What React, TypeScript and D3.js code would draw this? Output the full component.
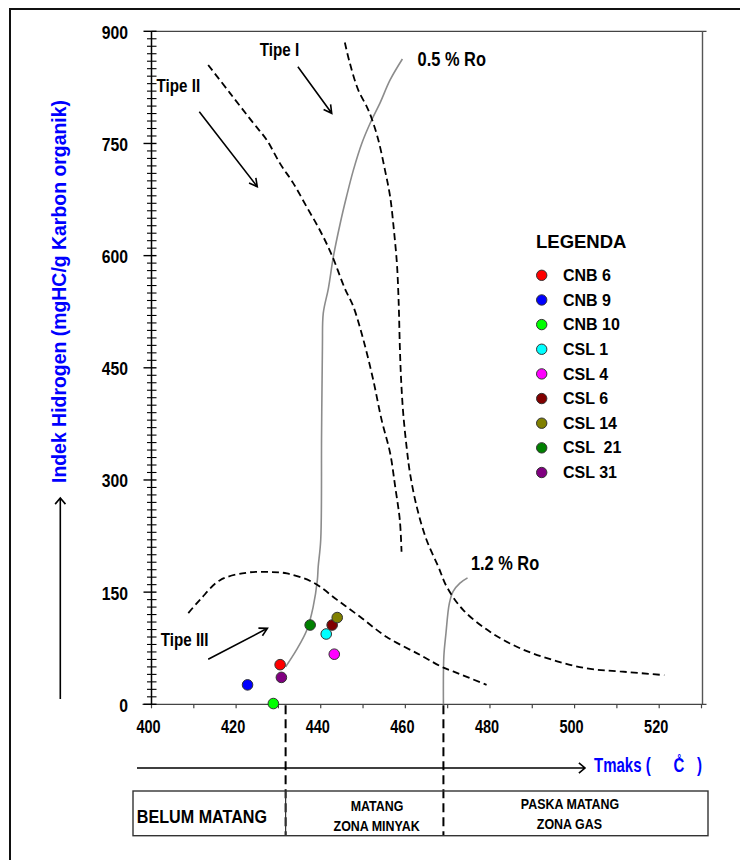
import React from 'react';
import * as d3 from 'd3';

const W = 740;
const H = 860;

// ---- Samples (Tmax °C, Hydrogen Index) ----
const sampleNames = ['CNB 6', 'CNB 9', 'CNB 10', 'CSL 1', 'CSL 4', 'CSL 6', 'CSL 14', 'CSL  21', 'CSL 31'];
const sampleColors = ['#ff0000', '#0000ff', '#00ff00', '#00ffff', '#ff00ff', '#800000', '#808000', '#008000', '#800080'];
const sampleTmax = [430.4, 422.7, 428.8, 441.3, 443.2, 442.7, 443.9, 437.5, 430.7];
const sampleHI = [53, 26, 1, 94, 67, 106, 116, 106, 36];

// ---- Kerogen type curves [Tmax, HI] ----
const typeICurve: [number, number][] = [
  [445.7, 885], [446.9, 857], [448.9, 821], [450.9, 799], [452.0, 784], [453.6, 755], [455.2, 714],
  [456.4, 679], [457.3, 634], [458.0, 590], [458.3, 556], [458.5, 523], [458.7, 478], [459.0, 434],
  [459.5, 389], [460.3, 344], [461.1, 309], [462.7, 264], [465.0, 220], [467.8, 184], [469.8, 157],
  [473.7, 126], [480.0, 97], [487.1, 75], [495.0, 59], [502.9, 48], [510.7, 44], [521.2, 39],
];
const typeIICurve: [number, number][] = [
  [413.4, 855], [418.6, 817], [424.1, 777], [427.2, 755], [430.4, 723], [433.5, 697], [436.7, 665],
  [439.8, 634], [442.6, 601], [445.7, 556], [447.7, 532], [450.1, 487], [452.4, 434], [454.4, 380],
  [456.4, 336], [457.6, 291], [458.7, 246], [459.1, 204],
];
const typeIIICurve: [number, number][] = [
  [408.7, 122], [411.5, 140], [416.2, 166], [422.5, 176], [427.2, 177], [432.0, 175], [438.2, 163],
  [443.8, 140], [449.3, 117], [455.6, 90], [463.5, 66], [469.0, 49], [471.3, 44], [479.2, 26],
];
// ---- Vitrinite reflectance iso-lines ----
const ro05Curve: [number, number][] = [
  [459.3, 863], [456.4, 835], [454.0, 804], [452.0, 781], [449.7, 750], [447.7, 714], [446.1, 679],
  [444.6, 643], [443.0, 599], [441.8, 556], [440.6, 523], [440.4, 478], [440.2, 362], [440.0, 220],
  [439.4, 184], [439.2, 166], [438.2, 130], [436.7, 99], [434.3, 73], [431.7, 50],
];
const ro12Curve: [number, number][] = [
  [469.0, 0], [469.1, 64], [469.6, 95], [470.4, 135], [471.3, 151], [472.9, 162], [474.7, 169],
];

const yTickValues = [0, 150, 300, 450, 600, 750, 900];
const xTickLabels = [400, 420, 440, 460, 480, 500, 520];
const zoneBounds = [431.7, 469];

// annotations in data units
const typeLabels = [
  { text: 'Tipe I', t: 425.6, hi: 867 },
  { text: 'Tipe II', t: 401.2, hi: 819 },
  { text: 'Tipe III', t: 402.2, hi: 78 },
];
const typeArrows = [
  { t1: 434.6, h1: 852.7, t2: 442.6, h2: 790.3 },
  { t1: 411.3, h1: 792.5, t2: 425.0, h2: 692.2 },
  { t1: 413.4, h1: 60.2, t2: 427.4, h2: 101.6 },
];
const roLabels = [
  { text: '0.5 % Ro', t: 462.9, hi: 853 },
  { text: '1.2 % Ro', t: 475.5, hi: 179 },
];

const FONT = "'Liberation Sans', Arial, sans-serif";

const x = d3.scaleLinear().domain([400, 530]).range([151.5, 701.5]);
const y = d3.scaleLinear().domain([0, 900]).range([704.3, 31.3]);

const line = d3
  .line<[number, number]>()
  .x((d) => x(d[0]))
  .y((d) => y(d[1]))
  .curve(d3.curveCatmullRom.alpha(0.5));

function arrowPath(x1: number, y1: number, x2: number, y2: number, size = 9, spread = 0.45) {
  const a = Math.atan2(y2 - y1, x2 - x1);
  const ax1 = x2 - size * Math.cos(a - spread);
  const ay1 = y2 - size * Math.sin(a - spread);
  const ax2 = x2 - size * Math.cos(a + spread);
  const ay2 = y2 - size * Math.sin(a + spread);
  return `M${x1},${y1}L${x2},${y2}M${ax1},${ay1}L${x2},${y2}L${ax2},${ay2}`;
}

function NText(props: {
  x: number; y: number; size: number; sx?: number; anchor?: string; fill?: string;
  weight?: string; children: React.ReactNode;
}) {
  const { x: tx, y: ty, size, sx = 1, anchor = 'start', fill = '#000', weight = 'bold', children } = props;
  return (
    <text
      transform={`translate(${tx},${ty}) scale(${sx},1)`}
      fontSize={size}
      fontFamily={FONT}
      fontWeight={weight}
      textAnchor={anchor}
      fill={fill}
      style={{ whiteSpace: 'pre' }}
    >
      {children}
    </text>
  );
}

export default function App() {
  const yMinor = d3.range(0, 901, 10).filter((v) => v % 150 !== 0);
  const xTicks = d3.range(400, 531, 10);
  const y0 = y(0);
  const x0 = x(400);
  const xEnd = x(530);
  const dash = '7,4';

  const legendX = 541.7;
  const legendY0 = 275.3;
  const legendStep = 24.65;

  const tableTop = 791;
  const tableBottom = 835.7;
  const tableLeft = 133;
  const tableRight = 708;

  return (
    <div style={{ position: 'absolute', left: 0, top: 0 }}>
      <svg width={W} height={H} viewBox={`0 0 ${W} ${H}`} style={{ display: 'block', background: '#fff' }}>
        {/* outer frame */}
        <rect x={10} y={9} width={760} height={880} fill="none" stroke="#111" strokeWidth={2} />

        {/* plot frame */}
        <line x1={x0} x2={xEnd + 5} y1={y(900)} y2={y(900)} stroke="#444" strokeWidth={1.2} />
        <line x1={xEnd + 1} x2={xEnd + 1} y1={y(900)} y2={y0} stroke="#555" strokeWidth={1.4} />

        {/* x axis */}
        <line x1={x0 - 9} x2={xEnd + 5} y1={y0} y2={y0} stroke="#444" strokeWidth={1.3} />
        {xTicks.map((v) => (
          <line key={`xt${v}`} x1={x(v)} x2={x(v)} y1={y0} y2={y0 + 4} stroke="#444" strokeWidth={1.2} />
        ))}
        {xTickLabels.map((v) => (
          <NText key={`xl${v}`} x={x(v) - 3} y={733} size={18.6} sx={0.78} anchor="middle">
            {v}
          </NText>
        ))}

        {/* y axis */}
        <line x1={x0} x2={x0} y1={y(900)} y2={y0} stroke="#000" strokeWidth={1.5} />
        {yMinor.map((v) => (
          <line key={`ym${v}`} x1={x0 - 4.5} x2={x0 + 5} y1={y(v)} y2={y(v)} stroke="#000" strokeWidth={1.1} />
        ))}
        {yTickValues.map((v) => (
          <line key={`yM${v}`} x1={x0 - 8} x2={x0 + 5} y1={y(v)} y2={y(v)} stroke="#000" strokeWidth={1.4} />
        ))}
        {yTickValues.map((v) => (
          <NText key={`yl${v}`} x={128} y={y(v) + 7.5} size={17.5} sx={0.9} anchor="end">
            {v}
          </NText>
        ))}

        {/* y axis title + arrow */}
        <text
          transform="translate(65.5,291.5) rotate(-90)"
          fontSize={20}
          fontFamily={FONT}
          fontWeight="bold"
          textAnchor="middle"
          fill="#0000ff"
          textLength={383}
          lengthAdjust="spacingAndGlyphs"
        >
          Indek Hidrogen (mgHC/g Karbon organik)
        </text>
        <path d={arrowPath(60.3, 699, 60.3, 498, 8, 0.7)} fill="none" stroke="#000" strokeWidth={1.6} />

        {/* x axis title + arrow */}
        <path d={arrowPath(137, 768, 585, 768, 8, 0.7)} fill="none" stroke="#000" strokeWidth={1.6} />
        <NText x={594} y={772.3} size={20} sx={0.75} fill="#0000ff">Tmaks (</NText>
        <NText x={673.5} y={772.3} size={20} sx={0.75} fill="#0000ff">{'C\u030A'}</NText>
        <NText x={697} y={772.3} size={20} sx={0.75} fill="#0000ff">)</NText>

        {/* maturity zone boundaries */}
        {zoneBounds.map((t) => (
          <line key={`zb${t}`} x1={x(t)} x2={x(t)} y1={y0 + 1} y2={tableBottom} stroke="#000" strokeWidth={2} strokeDasharray="9,5" />
        ))}

        {/* maturity table */}
        <rect
          x={tableLeft}
          y={tableTop}
          width={tableRight - tableLeft}
          height={tableBottom - tableTop}
          fill="none"
          stroke="#333"
          strokeWidth={1.4}
        />
        <line x1={x(zoneBounds[0])} x2={x(zoneBounds[0])} y1={tableTop} y2={tableBottom} stroke="#333" strokeWidth={1.2} />
        <NText x={136.8} y={823.3} size={18.6} sx={0.868}>BELUM MATANG</NText>
        <NText x={377} y={810.7} size={15} sx={0.83} anchor="middle">MATANG</NText>
        <NText x={376.6} y={830.7} size={15} sx={0.83} anchor="middle">ZONA MINYAK</NText>
        <NText x={570} y={809.3} size={15} sx={0.83} anchor="middle">PASKA MATANG</NText>
        <NText x={569.4} y={829.3} size={15} sx={0.83} anchor="middle">ZONA GAS</NText>

        {/* reflectance lines */}
        <path d={line(ro05Curve) || ''} fill="none" stroke="#8c8c8c" strokeWidth={1.6} />
        <path d={line(ro12Curve) || ''} fill="none" stroke="#8c8c8c" strokeWidth={1.6} />

        {/* kerogen type curves */}
        <path d={line(typeICurve) || ''} fill="none" stroke="#000" strokeWidth={1.8} strokeDasharray={dash} />
        <path d={line(typeIICurve) || ''} fill="none" stroke="#000" strokeWidth={1.8} strokeDasharray={dash} />
        <path d={line(typeIIICurve) || ''} fill="none" stroke="#000" strokeWidth={1.8} strokeDasharray={dash} />

        {/* annotations */}
        {typeArrows.map((a, i) => (
          <path
            key={`ta${i}`}
            d={arrowPath(x(a.t1), y(a.h1), x(a.t2), y(a.h2), 9, 0.5)}
            fill="none"
            stroke="#000"
            strokeWidth={1.6}
          />
        ))}
        {typeLabels.map((l) => (
          <NText key={l.text} x={x(l.t)} y={y(l.hi)} size={18.5} sx={0.82}>
            {l.text}
          </NText>
        ))}
        {roLabels.map((l) => (
          <NText key={l.text} x={x(l.t)} y={y(l.hi)} size={20} sx={0.82}>
            {l.text}
          </NText>
        ))}

        {/* samples */}
        {sampleNames.map((n, i) => (
          <circle
            key={`pt${n}`}
            cx={x(sampleTmax[i])}
            cy={y(sampleHI[i])}
            r={5.3}
            fill={sampleColors[i]}
            stroke="#333"
            strokeWidth={1}
          />
        ))}

        {/* legend */}
        <text x={536} y={248.3} fontSize={18.5} fontFamily={FONT} fontWeight="bold" fill="#000">
          LEGENDA
        </text>
        {sampleNames.map((n, i) => (
          <g key={`lg${n}`}>
            <circle cx={legendX} cy={legendY0 + i * legendStep} r={5.2} fill={sampleColors[i]} stroke="#333" strokeWidth={1} />
            <NText x={563} y={legendY0 + i * legendStep + 5.6} size={16} sx={1}>
              {n}
            </NText>
          </g>
        ))}
      </svg>
    </div>
  );
}
